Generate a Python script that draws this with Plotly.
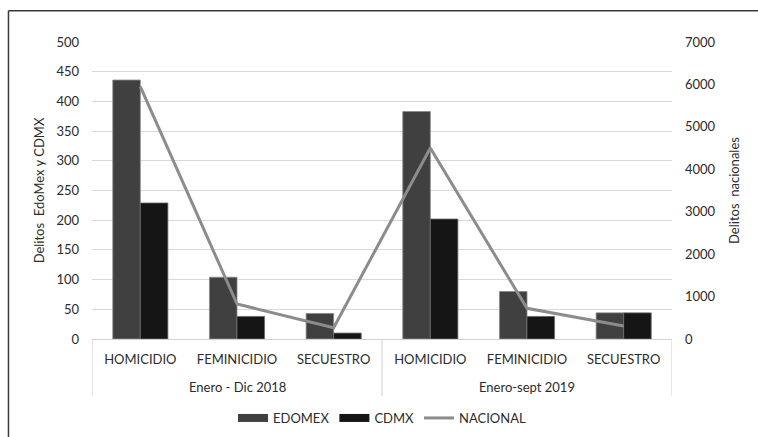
import plotly.graph_objects as go

# Periods and crime types
periods = ["Enero - Dic 2018", "Enero-sept 2019"]
crimes = ["HOMICIDIO", "FEMINICIDIO", "SECUESTRO"]

# Counts by entity
edomex = [436, 104, 43, 383, 80, 44]
cdmx = [229, 38, 10, 202, 38, 44]
nacional = [5950, 825, 266, 4500, 723, 306]

crime_labels = crimes * len(periods)
pos = list(range(len(crime_labels)))
n = len(crimes)

FONT = "Lato"
SIZE = 13
TEXT = "#2b2b2b"
EDO_C = "#404040"
CDMX_C = "#151515"
NAC_C = "#8c8c8c"
GRID = "#d9d9d9"

fig = go.Figure()
fig.add_trace(go.Bar(
    x=pos, y=edomex, name="EDOMEX", showlegend=False,
    marker=dict(color=EDO_C, line=dict(color="#8a8a8a", width=0.8)),
))
fig.add_trace(go.Bar(
    x=pos, y=cdmx, name="CDMX", showlegend=False,
    marker=dict(color=CDMX_C, line=dict(color="#6a6a6a", width=0.8)),
))
fig.add_trace(go.Scatter(
    x=pos, y=nacional, name="NACIONAL", yaxis="y2", showlegend=False,
    mode="lines", line=dict(color=NAC_C, width=3),
))

# Legend entries with wide rectangular swatches
for name, color, w in [("EDOMEX", EDO_C, 8), ("CDMX", CDMX_C, 8), ("NACIONAL", NAC_C, 3)]:
    fig.add_trace(go.Scatter(
        x=[None], y=[None], name=name, mode="lines",
        line=dict(color=color, width=w),
    ))

# Period labels and separators below the category labels
annotations = []
shapes = []
for i, p in enumerate(periods):
    annotations.append(dict(
        x=i * n + (n - 1) / 2, xref="x", y=0, yref="paper",
        yshift=-48, yanchor="middle", showarrow=False,
        text=p, font=dict(family=FONT, size=SIZE, color=TEXT),
    ))
for b in range(len(periods) + 1):
    shapes.append(dict(
        type="line", xref="x", yref="paper", ysizemode="pixel", yanchor=0,
        x0=b * n - 0.5, x1=b * n - 0.5, y0=0, y1=-57,
        line=dict(color="#d0d0d0", width=1),
    ))

# Outer frame (top and left edges)
shapes += [
    dict(type="line", xref="paper", yref="paper", x0=-0.144, x1=1.2, y0=1.105, y1=1.105,
         line=dict(color="#3a3a3a", width=1.5)),
    dict(type="line", xref="paper", yref="paper", x0=-0.144, x1=-0.144, y0=1.105, y1=-0.4,
         line=dict(color="#3a3a3a", width=1.5)),
]

fig.update_layout(
    width=758, height=437,
    margin=dict(l=92, r=86, t=42, b=98, autoexpand=False),
    paper_bgcolor="white", plot_bgcolor="white",
    font=dict(family=FONT, size=SIZE, color=TEXT),
    barmode="group", bargap=0.43, bargroupgap=0,
    showlegend=True,
    legend=dict(
        orientation="h", x=0.5, xanchor="center", y=-0.266, yanchor="middle",
        font=dict(family=FONT, size=SIZE, color=TEXT),
        traceorder="normal", itemwidth=30,
    ),
    xaxis=dict(
        range=[-0.5, len(pos) - 0.5],
        tickvals=pos, ticktext=crime_labels,
        showline=True, linecolor="#d0d0d0", linewidth=1,
        ticks="", ticklabelstandoff=8, automargin=False,
        tickfont=dict(family=FONT, size=SIZE, color=TEXT),
        showgrid=False, zeroline=False,
    ),
    yaxis=dict(
        range=[0, 500], dtick=50,
        showgrid=True, gridcolor=GRID, gridwidth=1,
        zeroline=False, showline=False, ticks="", ticklabelstandoff=12,
        automargin=False,
        tickfont=dict(family=FONT, size=SIZE, color=TEXT),
        title=dict(text="Delitos  EdoMex y CDMX", font=dict(family=FONT, size=SIZE, color=TEXT), standoff=8),
    ),
    yaxis2=dict(
        overlaying="y", side="right",
        range=[0, 7000], dtick=1000,
        showgrid=False, zeroline=False, showline=False, ticks="", ticklabelstandoff=12,
        automargin=False,
        tickfont=dict(family=FONT, size=SIZE, color=TEXT),
        title=dict(text="Delitos  nacionales", font=dict(family=FONT, size=SIZE, color=TEXT), standoff=15),
    ),
    shapes=shapes,
    annotations=annotations,
)

fig.write_html("out.html")
